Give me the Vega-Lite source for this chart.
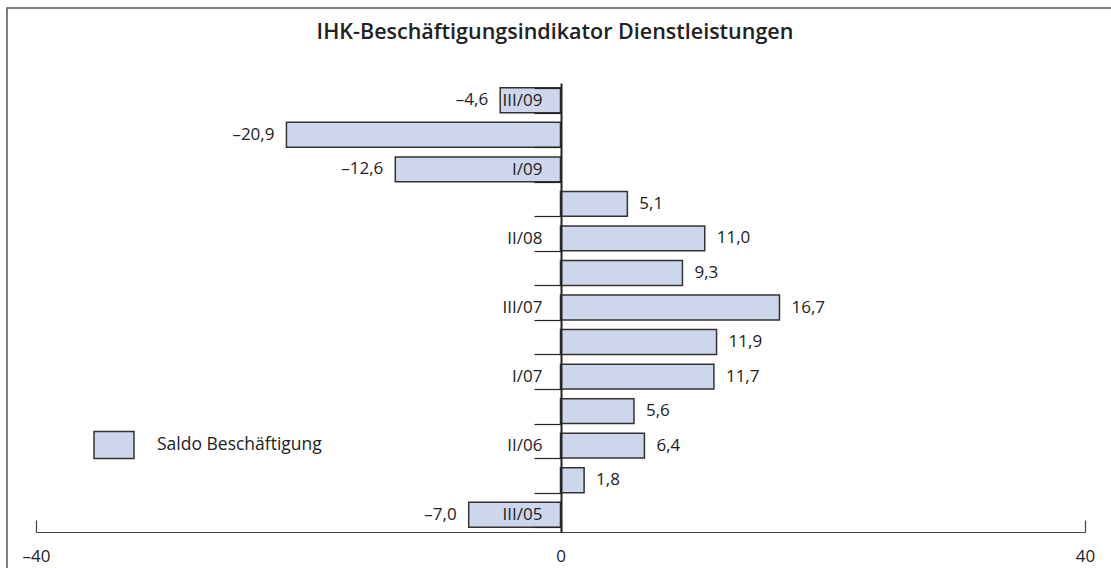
{
  "$schema": "https://vega.github.io/schema/vega-lite/v6.json",
  "width": 1110,
  "height": 566,
  "autosize": {"type": "none"},
  "padding": {"left": 7, "top": 8, "right": 0, "bottom": 0},
  "title": {
    "text": "IHK-Beschäftigungsindikator Dienstleistungen",
    "offset": -44,
    "anchor": "middle",
    "dx": -7,
    "font": "Open Sans",
    "fontSize": 21.5,
    "fontWeight": 600,
    "color": "#222222"
  },
  "data": {
    "values": [
      {"q": "III/09", "v": -4.6},
      {"q": "II/09", "v": -20.9},
      {"q": "I/09", "v": -12.6},
      {"q": "III/08", "v": 5.1},
      {"q": "II/08", "v": 11.0},
      {"q": "I/08", "v": 9.3},
      {"q": "III/07", "v": 16.7},
      {"q": "II/07", "v": 11.9},
      {"q": "I/07", "v": 11.7},
      {"q": "III/06", "v": 5.6},
      {"q": "II/06", "v": 6.4},
      {"q": "I/06", "v": 1.8},
      {"q": "III/05", "v": -7.0}
    ]
  },
  "encoding": {
    "y": {
      "field": "q",
      "type": "nominal",
      "sort": null,
      "scale": {"range": [75, 524], "paddingInner": 0.28, "paddingOuter": 0.14},
      "axis": {
        "title": null,
        "orient": "left",
        "offset": -554,
        "zindex": 1,
        "tickBand": "extent",
        "tickSize": 27,
        "tickColor": "#222222",
        "tickWidth": 1.2,
        "domainColor": "#222222",
        "domainWidth": 2,
        "labelPadding": -8,
        "labelFont": "Open Sans",
        "labelFontSize": 17,
        "labelColor": "#222222",
        "labelExpr": "indexof(['III/09','I/09','II/08','III/07','I/07','II/06','III/05'], datum.value) >= 0 ? datum.value : ''"
      }
    },
    "x": {
      "field": "v",
      "type": "quantitative",
      "scale": {"domain": [-40, 40], "range": [29, 1078], "nice": false, "zero": false},
      "axis": {
        "title": null,
        "orient": "bottom",
        "offset": -42,
        "values": [-40, 0, 40],
        "format": "d",
        "grid": false,
        "tickSize": -12,
        "tickColor": "#444444",
        "tickWidth": 1.2,
        "domainColor": "#444444",
        "domainWidth": 1.2,
        "labelFlush": false,
        "labelPadding": 28,
        "labelFont": "Open Sans",
        "labelFontSize": 17,
        "labelColor": "#222222"
      }
    }
  },
  "layer": [
    {
      "mark": {"type": "bar", "stroke": "#333333", "strokeWidth": 1.5},
      "encoding": {
        "x2": {"datum": 0},
        "color": {
          "datum": "Saldo Beschäftigung",
          "type": "nominal",
          "scale": {"range": ["#cdd6ea"]},
          "legend": {
            "title": null,
            "orient": "none",
            "legendX": 86,
            "legendY": 416,
            "symbolType": "M-1,-0.675H1V0.675H-1Z",
            "symbolSize": 1600,
            "symbolStrokeColor": "#333333",
            "symbolStrokeWidth": 1.5,
            "symbolFillColor": "#cdd6ea",
            "labelOffset": 22,
            "labelLimit": 400,
            "labelFont": "Open Sans",
            "labelFontSize": 17.5,
            "labelColor": "#222222"
          }
        }
      }
    },
    {
      "transform": [{"filter": "datum.v >= 0"}],
      "mark": {"type": "text", "align": "left", "dx": 12, "font": "Open Sans", "fontSize": 17, "color": "#222222"},
      "encoding": {"text": {"field": "v", "type": "quantitative", "format": ".1f"}}
    },
    {
      "transform": [{"filter": "datum.v < 0"}],
      "mark": {"type": "text", "align": "right", "dx": -12, "font": "Open Sans", "fontSize": 17, "color": "#222222"},
      "encoding": {"text": {"field": "v", "type": "quantitative", "format": ".1f"}}
    }
  ],
  "config": {
    "locale": {
      "number": {"decimal": ",", "thousands": ".", "grouping": [3], "currency": ["", " €"], "minus": "–"}
    },
    "view": {"stroke": "#555555", "strokeWidth": 1.5},
    "background": "white"
  }
}
